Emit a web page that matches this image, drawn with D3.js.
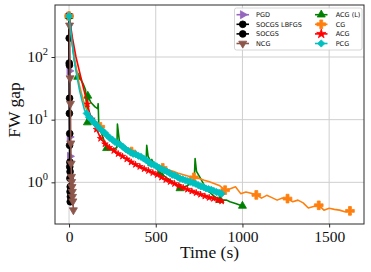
<!DOCTYPE html>
<html><head><meta charset="utf-8">
<script src="https://cdn.jsdelivr.net/npm/d3@7"></script>
<style>body{margin:0;background:#fff}svg{display:block}.serif{font-family:"Liberation Serif","DejaVu Serif",serif}</style>
</head><body>
<svg id="c" width="371" height="272"></svg>
<script>
// ---- data ----
const seriesNames = ["PGD","SOCGS LBFGS","SOCGS","NCG","ACG (L)","CG","ACG","PCG"];
const xTicks = [0, 500, 1000, 1500];
const yTicks = [1, 10, 100];
const yTickExp = ["0", "1", "2"];

const pgdT = [0, 1.5, 3, 4.5];
const pgdV = [450, 60, 5.3, 2.6];

const socgsLbfgsT = [0, 1, 2, 3, 4, 5, 6, 7, 8];
const socgsLbfgsV = [450, 200, 74, 22, 6, 2.1, 1.48, 0.85, 0.59];

const socgsT = [0, 1, 2, 3, 4, 5, 6, 7];
const socgsV = [450, 80, 12.6, 3.9, 1.77, 1.16, 0.71, 0.49];

const ncgT = [0, 3, 6, 8, 10, 12, 14, 15, 17, 19, 20, 22, 25];
const ncgV = [450, 320, 46, 18, 4.2, 2.0, 1.23, 1.02, 0.85, 0.71, 0.59, 0.5, 0.36];

const acgLT = [0,20,30,50,65,80,95,106,108,125,150,165,168,172,190,217,240,262,276,279,290,300,330,360,400,430,445,448,456,477,500,525,560,600,640,680,710,722,727,735,755,790,830,871,909,928,960,1000];
const acgLV = [450,150,90,48,45,38,30,9,24,19,16,15,18,7.5,5.8,3.5,3.4,3.4,3.6,8.5,4.6,3.6,3.1,2.8,2.5,2.3,2.4,3.9,2.6,2.0,1.75,1.4,1.2,1.0,0.8,0.88,0.98,1.1,2.4,1.5,1.2,0.8,0.62,0.52,0.52,0.49,0.46,0.42];

const cgT = [0,30,60,90,120,150,180,210,240,270,300,330,360,390,420,450,480,510,540,570,600,630,660,690,720,750,780,810,840,870,900,930,960,990,1020,1050,1080,1110,1140,1170,1200,1230,1260,1290,1320,1350,1380,1410,1440,1470,1500,1530,1560,1590,1620];
const cgV = [450,100,35,17,11.5,9,7.7,6.0,5.2,4.5,3.9,3.5,3.1,2.7,2.5,2.25,2.0,1.85,1.7,1.58,1.5,1.4,1.32,1.25,1.2,1.15,1.08,1.02,0.95,0.88,0.75,0.79,0.85,0.66,0.70,0.67,0.63,0.56,0.62,0.57,0.52,0.56,0.55,0.49,0.52,0.47,0.39,0.41,0.43,0.36,0.385,0.37,0.36,0.34,0.35];

const acgT = [0,20,40,70,106,120,132,145,158,170,182,195,207,220,232,245,258,270,283,295,308,320,333,345,358,370,383,395,408,420,433,445,458,470,483,495,508,520,533,545,558,570,583,595,608,620,633,645,658,670,683,695,708,720,733,745,758,770,783,795,808,820,833,845,858,870,880];
const acgV = [450,200,100,45,17.7,12.5,10.2,8.4,7.0,6.0,5.0,4.6,4.1,3.9,3.6,3.5,3.2,3.1,2.85,2.8,2.6,2.5,2.35,2.3,2.1,2.05,1.92,1.85,1.78,1.74,1.64,1.6,1.53,1.5,1.42,1.4,1.32,1.28,1.2,1.17,1.1,1.08,1.02,1.0,0.95,0.93,0.88,0.86,0.82,0.8,0.77,0.75,0.72,0.71,0.68,0.67,0.64,0.63,0.6,0.6,0.57,0.57,0.55,0.54,0.52,0.51,0.5];

const pcgT = [0,15,30,45,60,75,90,102,115,130,145,160,175,190,205,220,235,250,265,280,295,310,325,340,355,370,385,400,415,430,445,460,475,490,505,520,535,550,565,580,595,610,625,640,655,670,685,700,715,730,745,760,775,790,805,820,835,850,865,880];
const pcgV = [450,200,90,50,30,20,14,12.6,11,10,9,8.2,7.3,6.7,6.2,5.6,5.1,4.8,4.4,4.2,4.0,3.7,3.4,3.2,3.0,2.85,2.8,2.65,2.55,2.4,2.25,2.1,1.95,1.9,1.8,1.7,1.62,1.55,1.48,1.4,1.32,1.28,1.22,1.15,1.12,1.08,1.05,1.02,0.98,0.95,0.9,0.86,0.84,0.8,0.78,0.76,0.73,0.7,0.68,0.66];

// ---- styles ----
const series = [
  {name: seriesNames[0], t: pgdT, v: pgdV, color: "#9467bd", sym: d3.symbolTriangle, rot: 90, size: 28, mark: i => true},
  {name: seriesNames[1], t: socgsLbfgsT, v: socgsLbfgsV, color: "#000000", sym: d3.symbolCircle, rot: 0, size: 36, mark: i => true},
  {name: seriesNames[2], t: socgsT, v: socgsV, color: "#000000", sym: d3.symbolCircle, rot: 0, size: 36, mark: i => true},
  {name: seriesNames[3], t: ncgT, v: ncgV, color: "#8c564b", sym: d3.symbolTriangle, rot: 180, size: 28, mark: i => true},
  {name: seriesNames[4], t: acgLT, v: acgLV, color: "#008000", sym: d3.symbolTriangle, rot: 0, size: 28, mark: i => [0,3,7,8,15,29,31,34,43,47].includes(i)},
  {name: seriesNames[5], t: cgT, v: cgV, color: "#ff7f0e", sym: d3.symbolCross, rot: 0, size: 42, mark: i => i % 6 === 0},
  {name: seriesNames[6], t: acgT, v: acgV, color: "#ff0000", sym: d3.symbolStar, rot: 0, size: 13, mark: i => i >= 4 && i % 2 === 0},
  {name: seriesNames[7], t: pcgT, v: pcgV, color: "#00bfbf", sym: d3.symbolSquare, rot: 45, size: 26, mark: i => i === 0 || i >= 7}
];

const svg = d3.select("#c");
const L = 55, R = 364, T = 5, B = 224;
const x = d3.scaleLinear().domain([-81, 1701]).range([L, R]);
const y = d3.scaleLog().domain([0.2163, 676]).range([B, T]);

svg.append("defs").append("clipPath").attr("id", "clip")
  .append("rect").attr("x", L).attr("y", T).attr("width", R - L).attr("height", B - T);

// grid
const g = svg.append("g");
g.selectAll(".gx").data(xTicks).join("line")
  .attr("x1", d => x(d)).attr("x2", d => x(d)).attr("y1", T).attr("y2", B)
  .attr("stroke", "#cfcfcf").attr("stroke-width", 1);
g.selectAll(".gy").data(yTicks).join("line")
  .attr("y1", d => y(d)).attr("y2", d => y(d)).attr("x1", L).attr("x2", R)
  .attr("stroke", "#cfcfcf").attr("stroke-width", 1);

// series
const plot = svg.append("g").attr("clip-path", "url(#clip)");
const line = d3.line().x(d => x(d[0])).y(d => y(d[1]));
series.forEach(s => {
  const pts = s.t.map((t, i) => [t, s.v[i]]);
  const gs = plot.append("g");
  gs.append("path").attr("d", line(pts)).attr("fill", "none")
    .attr("stroke", s.color).attr("stroke-width", 1.6).attr("stroke-linejoin", "round");
  const sym = d3.symbol().type(s.sym).size(s.size);
  gs.selectAll("path.m").data(pts.filter((p, i) => s.mark(i))).join("path")
    .attr("class", "m").attr("d", sym)
    .attr("transform", d => `translate(${x(d[0])},${y(d[1])}) rotate(${s.rot})`)
    .attr("fill", s.color).attr("stroke", s.color).attr("stroke-width", 0.8).attr("stroke-linejoin", "round");
});

// frame
svg.append("rect").attr("x", L).attr("y", T).attr("width", R - L).attr("height", B - T)
  .attr("fill", "none").attr("stroke", "#2a2a2a").attr("stroke-width", 1);

// x axis ticks
const xa = svg.append("g").attr("transform", `translate(0,${B})`)
  .call(d3.axisBottom(x).tickValues(xTicks).tickSize(3.5).tickPadding(3).tickFormat(d3.format("d")));
xa.attr("font-family", null).attr("font-size", null);
xa.select(".domain").remove();
xa.selectAll("line").attr("stroke", "#2a2a2a");
xa.selectAll("text").attr("class", "serif").style("font-size", "15.5px").attr("fill", "#111");

// y axis ticks
const ya = svg.append("g").attr("transform", `translate(${L},0)`)
  .call(d3.axisLeft(y).tickValues(yTicks).tickSize(3.5).tickFormat(""));
ya.select(".domain").remove();
ya.selectAll("line").attr("stroke", "#2a2a2a");
const yl = svg.append("g");
yTicks.forEach((d, i) => {
  const t = yl.append("text").attr("class", "serif").attr("x", L - 7).attr("y", y(d) + 4.8)
    .attr("text-anchor", "end").attr("fill", "#111");
  t.append("tspan").style("font-size", "15.5px").text("10");
  t.append("tspan").style("font-size", "10.5px").attr("dy", -7).text(yTickExp[i]);
});

// axis labels
svg.append("text").attr("class", "serif").attr("x", (L + R) / 2).attr("y", 258).attr("text-anchor", "middle")
  .style("font-size", "17.5px").attr("fill", "#111").text("Time (s)");
svg.append("text").attr("class", "serif").attr("transform", "translate(20,110) rotate(-90)").attr("text-anchor", "middle")
  .style("font-size", "17.5px").attr("fill", "#111").text("FW gap");

// legend
const lg = svg.append("g");
lg.append("rect").attr("x", 234.5).attr("y", 8).attr("width", 127.5).attr("height", 42).attr("rx", 2)
  .attr("fill", "#fff").attr("fill-opacity", 0.85).attr("stroke", "#cccccc").attr("stroke-width", 0.8);
series.forEach((s, i) => {
  const col = Math.floor(i / 4), row = i % 4;
  const x0 = col === 0 ? 236.5 : 315;
  const cy = 14.7 + row * 9.6;
  lg.append("line").attr("x1", x0).attr("x2", x0 + 12.5).attr("y1", cy).attr("y2", cy)
    .attr("stroke", s.color).attr("stroke-width", 1.6);
  lg.append("path").attr("d", d3.symbol().type(s.sym).size(Math.max(s.size, 26))())
    .attr("transform", `translate(${x0 + 6.25},${cy}) rotate(${s.rot})`)
    .attr("fill", s.color).attr("stroke", s.color).attr("stroke-width", 0.8).attr("stroke-linejoin", "round");
  lg.append("text").attr("x", col === 0 ? 256 : 335.7).attr("y", cy + 2.3)
    .style("font-family", "'DejaVu Sans'").style("font-size", "6.5px").attr("fill", "#111").text(s.name);
});
</script>
</body></html>
